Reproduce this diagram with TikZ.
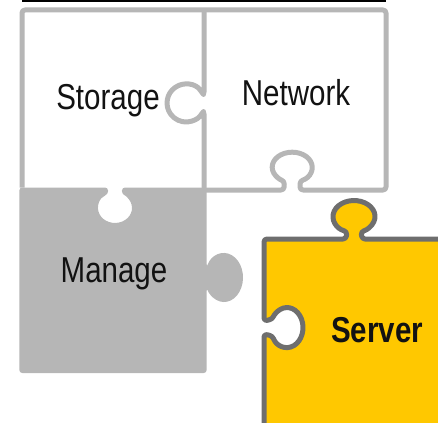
\documentclass[tikz,border=0pt]{standalone}
\usepackage{fontspec}
\setmainfont{Liberation Sans}[FakeStretch=0.82]
\usepackage{tikz}
\definecolor{piece_gray}{RGB}{182,182,182}
\definecolor{edge_gray}{RGB}{110,110,110}
\definecolor{piece_yellow}{RGB}{255,200,0}

\begin{document}
\begin{tikzpicture}[x=1pt,y=1pt,
	piece_label/.style={anchor=base,inner sep=0pt,text=black!93,font=\fontsize{36}{40}\selectfont},
	light_edge/.style={draw=piece_gray,line width=5pt,line join=round,rounded corners=3pt},
	dark_piece/.style={fill=piece_yellow,draw=edge_gray,line width=5pt,line join=round,rounded corners=3pt}]

		\useasboundingbox (0,0) rectangle (438,-422);
		\fill[black] (22,0) rectangle (386,-2);

		% storage + network
		\draw[light_edge] (22,-187.5) -- (22,-10) -- (386,-10) -- (386,-190) -- (300,-190) -- (300,-181)
			arc[start angle=-67,end angle=247,x radius=20,y radius=15] -- (284,-190) -- (204,-190);
		\draw[light_edge] (204,-10) -- (204,-95) -- (201.6,-92.1)
			arc[start angle=35,end angle=325,radius=19] -- (204,-111) -- (204,-190);

		% manage
		\fill[piece_gray,rounded corners=3pt] (19.3,-187.5) -- (108,-187.5) -- (108,-194.3)
			arc[start angle=114.3,end angle=425.7,x radius=17,y radius=15] -- (122,-187.5) -- (206.7,-187.5) -- (206.7,-267.4)
			arc[start angle=155.6,end angle=-155.6,x radius=19,y radius=24.5] -- (206.7,-373) -- (19.3,-373) -- cycle;

		% server
		\filldraw[dark_piece] (264,-430) -- (264,-334) -- (272.5,-336)
			arc[start angle=-155,end angle=155,x radius=16,y radius=20] -- (264,-321) -- (264,-239) -- (346,-239) -- (347,-231.6)
			arc[start angle=250.5,end angle=-70.5,x radius=21,y radius=16] -- (362,-239) -- (445,-239) -- (445,-430) -- cycle;

		\node[piece_label] (1) at (108,-110) {Storage};
		\node[piece_label] (2) at (296,-106) {Network};
		\node[piece_label] (3) at (114,-282) {Manage};
		\node[piece_label,font=\fontsize{36}{40}\selectfont\bfseries] (4) at (377,-342) {Server};
		\end{tikzpicture}
\end{document}
